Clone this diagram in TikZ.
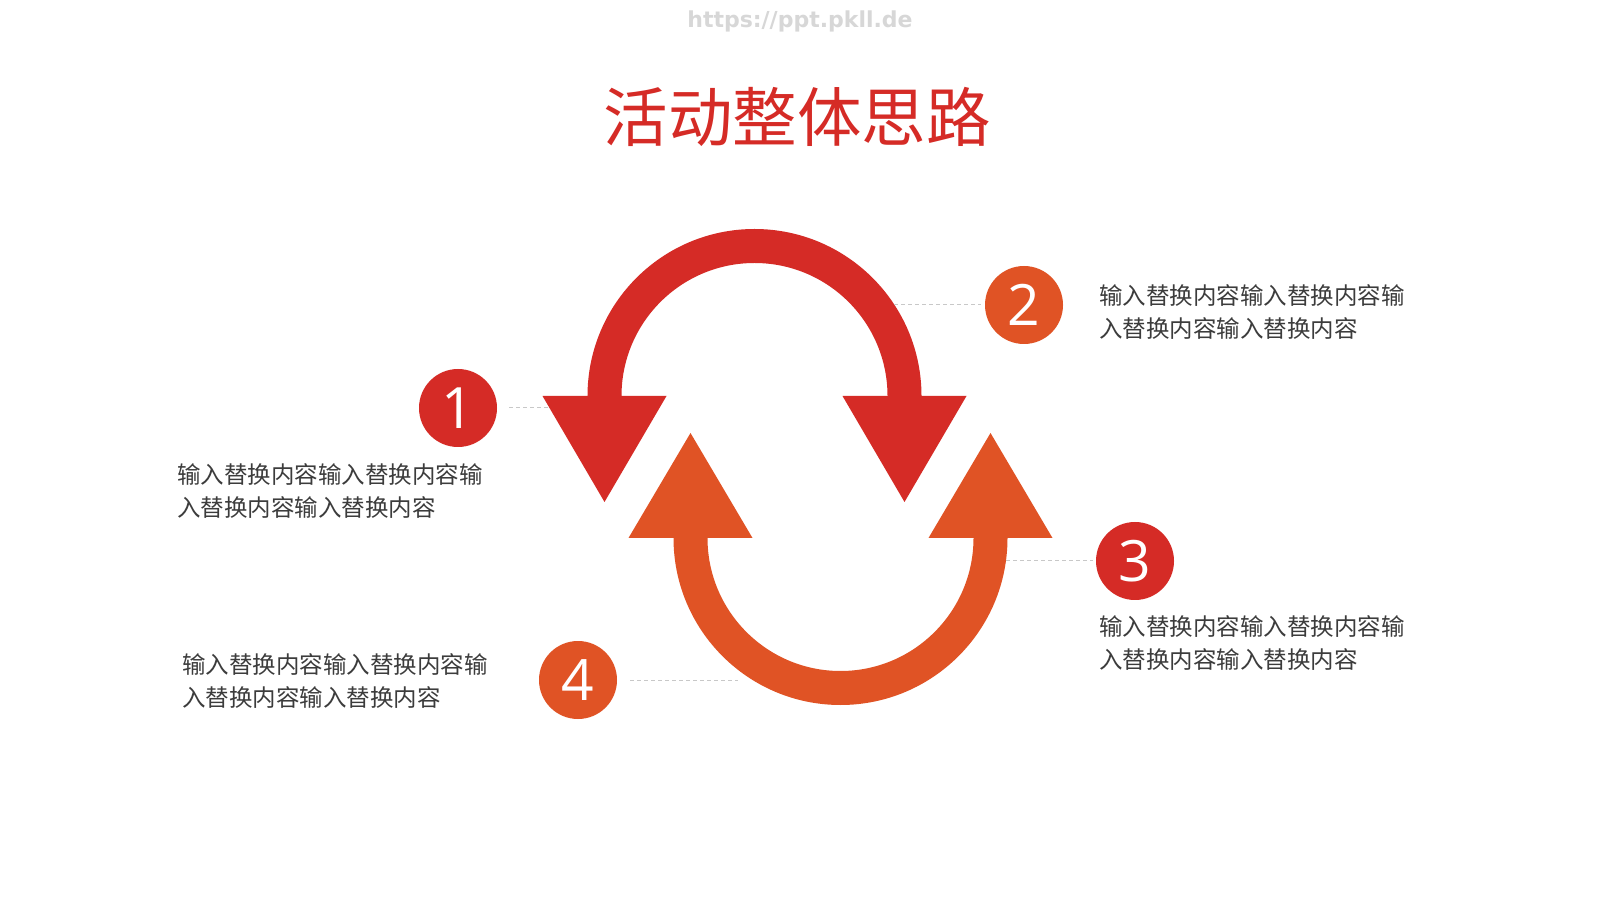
\documentclass[tikz,border=0pt]{standalone}
\usepackage{fontspec}
\usetikzlibrary{calc}
\newfontfamily\cjk{Noto Sans CJK SC}
\newfontfamily\numfont{Open Sans}
\newfontfamily\wmfont{DejaVu Sans}
\definecolor{myred}{RGB}{213,43,38}
\definecolor{myorange}{RGB}{224,83,37}
\definecolor{txtgray}{RGB}{60,60,60}
\definecolor{dashgray}{RGB}{200,200,200}
\definecolor{wmgray}{RGB}{215,215,215}
\tikzset{
  numcircle/.style={circle, minimum size=78pt, inner sep=0pt, text=white,
    font=\numfont\fontsize{57pt}{57pt}\selectfont},
  redc/.style={numcircle, fill=myred},
  orangec/.style={numcircle, fill=myorange},
  desc/.style={anchor=west, align=left, inner sep=0pt, text=txtgray,
    font=\cjk\fontsize{23.5pt}{33.5pt}\selectfont},
  leader/.style={draw=dashgray, line width=1pt, dash pattern=on 4pt off 3pt}
}
\begin{document}
\begin{tikzpicture}[x=1pt,y=1pt]
\useasboundingbox (0,0) rectangle (1600,900);
\fill[white] (0,0) rectangle (1600,900);

% watermark and title
\node[font=\wmfont\bfseries\fontsize{22pt}{22pt}\selectfont, text=wmgray] (wm) at (800,878.5) {https://ppt.pkll.de};
\node[font=\cjk\fontsize{64.5pt}{64.5pt}\selectfont, text=myred] (title) at (797,783) {活动整体思路};

% top (red) double arrow
\fill[myred] (587.5,504) arc[start angle=180, end angle=0, radius=167]
  -- (966.5,504) -- (904.5,398) -- (842.5,504) -- (887.5,504)
  arc[start angle=0, end angle=180, radius=133]
  -- (666.5,504) -- (604.5,398) -- (542.5,504) -- cycle;

% bottom (orange) double arrow
\fill[myorange] (673.5,362) arc[start angle=180, end angle=360, radius=167]
  -- (1052.5,362) -- (990.5,467) -- (928.5,362) -- (973.5,362)
  arc[start angle=360, end angle=180, radius=133]
  -- (752.5,362) -- (690.5,467) -- (628.5,362) -- cycle;

% number circles
\node[redc] (c1) at (458,492) {1};
\node[orangec] (c2) at (1024,595) {2};
\node[redc] (c3) at (1135,339) {3};
\node[orangec] (c4) at (578,220) {4};

% leader lines
\coordinate (e1) at (549,492);
\coordinate (e2) at (894,595);
\coordinate (e3) at (1006,339);
\coordinate (e4) at (738,220);
\draw[leader, shorten <=12pt] (c1.east) -- (e1);
\draw[leader, shorten >=4pt] (e2) -- (c2.west);
\draw[leader, shorten >=3pt] (e3) -- (c3.west);
\draw[leader, shorten <=13pt] (c4.east) -- (e4);

% descriptions
\node[desc] (t1) at (177,409) {输入替换内容输入替换内容输\\入替换内容输入替换内容};
\node[desc] (t2) at (1099,588) {输入替换内容输入替换内容输\\入替换内容输入替换内容};
\node[desc] (t3) at (1099,257) {输入替换内容输入替换内容输\\入替换内容输入替换内容};
\node[desc] (t4) at (182,219) {输入替换内容输入替换内容输\\入替换内容输入替换内容};
\end{tikzpicture}
\end{document}
